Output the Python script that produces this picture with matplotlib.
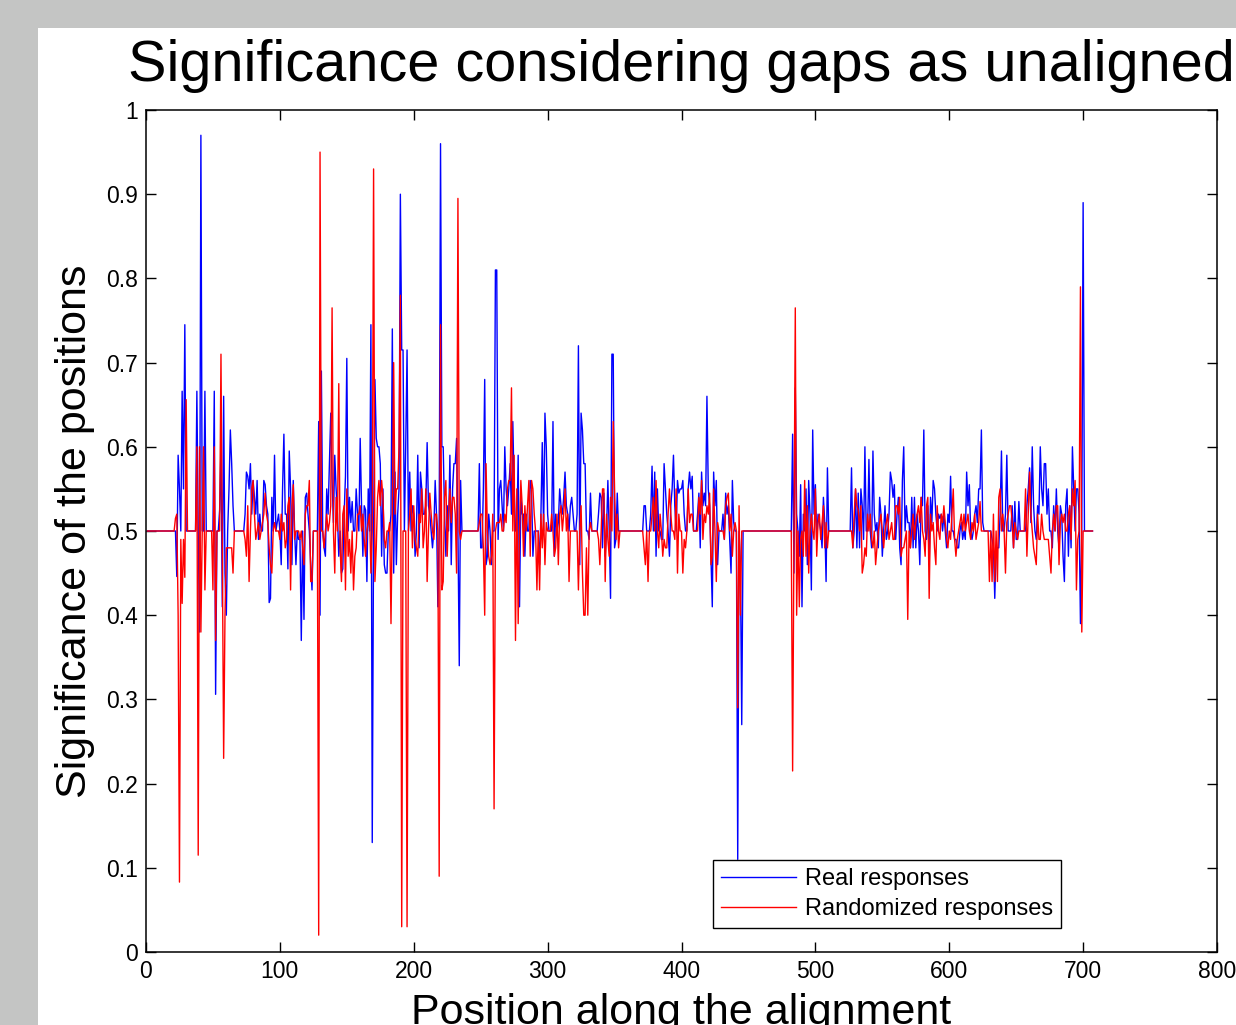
import numpy as np
import matplotlib
matplotlib.use("Agg")
import matplotlib.pyplot as plt
from matplotlib.patches import Rectangle

plt.rcParams['font.family'] = ['Liberation Sans', 'DejaVu Sans']

# ---------------- data ----------------
x_first, x_last = 1, 707
baseline = 0.5

# (start position, values) for each stretch of activity
real_p0 = [.50,.446,.59,.55,.50,.666,.55,.745,.50,.50, .50,.50,.50,.50,.50,.50,.666,.50,.38,.97,
           .50,.50,.666,.50,.50,.50,.50,.50,.50,.666, .306,.50,.50,.525,.60,.41,.66,.45,.40,.50,
           .55,.62,.58,.53,.50,.50,.50,.50,.50,.50, .50,.50,.52,.57,.565,.55,.58,.52,.56,.54,
           .52,.56,.49,.52,.50,.50,.56,.555,.53,.52, .415]
rand_p0 = [.515,.52,.40,.083,.49,.414,.49,.445,.656,.50, .50,.50,.50,.50,.50,.50,.60,.115,.60,.38,
           .50,.60,.43,.50,.50,.50,.50,.50,.43,.60, .37,.50,.50,.50,.71,.48,.23,.40,.48,.48,
           .48,.48,.48,.45,.50,.50,.50,.50,.50,.50, .50,.50,.49,.47,.53,.44,.50,.55,.56,.52,
           .49,.50,.51,.49,.50,.51,.52,.545,.52,.51, .48]

real_p1 = [.42,.54,.50,.59,.50,.51,.52,.50,.46,.55, .615,.52,.52,.455,.595,.55,.46,.56,.50,.46,
           .50,.49,.49,.37,.50,.395,.54,.545,.52,.50, .46,.43,.50,.50,.50,.50,.63,.40,.69,.50,
           .48,.47,.55,.52,.58,.64,.56,.51,.59,.55, .52,.47,.50,.45,.455,.52,.565,.705,.50,.54,
           .51,.535,.50,.50,.55,.52,.50,.61,.53,.47, .53,.525,.44,.55,.50,.745,.13,.50]
rand_p1 = [.46,.45,.50,.51,.50,.50,.50,.49,.52,.50, .51,.48,.49,.53,.54,.43,.53,.555,.49,.50,
           .50,.50,.49,.50,.48,.46,.52,.53,.53,.56, .44,.44,.50,.50,.50,.50,.02,.95,.50,.50,
           .48,.50,.52,.50,.51,.53,.765,.50,.45,.54, .50,.675,.48,.44,.52,.53,.43,.55,.47,.49,
           .45,.50,.43,.47,.48,.52,.52,.53,.50,.52, .49,.47,.50,.51,.52,.45,.50,.93]

real_p2 = [.68,.61,.60,.60,.58,.47,.55,.46,.45,.45, .50,.50,.52,.74,.45,.57,.46,.52,.55,.90,
           .715,.715,.50,.60,.715,.50,.57,.50,.53,.52, .47,.50,.59,.48,.57,.55,.52,.52,.53,.605,
           .53,.52,.50,.48,.50,.56,.52,.41,.50,.96, .60,.60,.52,.47,.53,.50,.59,.46,.55,.58,
           .58,.61,.50,.34,.56]
rand_p2 = [.44,.48,.54,.56,.53,.56,.54,.49,.48,.50, .50,.51,.39,.52,.70,.52,.55,.55,.60,.78,
           .03,.50,.50,.50,.03,.50,.52,.55,.48,.53, .49,.48,.47,.52,.51,.55,.48,.50,.55,.44,
           .50,.545,.52,.50,.49,.52,.52,.50,.09,.745, .43,.44,.54,.56,.47,.52,.55,.51,.54,.54,
           .52,.45,.895,.50,.49]

real_p3 = [.50,.58,.48,.48,.55,.68,.46,.47,.52,.50, .46,.50,.50,.81,.81,.49,.55,.56,.53,.50,
           .60,.55,.53,.55,.58,.52,.63,.55,.50,.50, .59,.41,.54,.52,.52,.47,.52,.50,.50,.56,
           .55,.47,.50,.50,.50,.50,.46,.52,.605,.50, .64,.60,.52,.50,.50,.50,.63,.47,.52,.50,
           .51,.55,.53,.52,.54,.57,.53,.52,.50,.53, .54,.52,.50,.50,.52,.72,.46,.64,.62,.58]
rand_p3 = [.50,.51,.52,.52,.48,.40,.58,.50,.47,.46, .47,.52,.17,.50,.51,.51,.51,.52,.50,.50,
           .52,.51,.55,.56,.56,.67,.50,.59,.37,.55, .39,.50,.56,.53,.47,.53,.50,.53,.56,.47,
           .56,.55,.52,.50,.43,.50,.43,.52,.48,.52, .46,.51,.50,.50,.50,.52,.50,.47,.48,.52,
           .46,.52,.53,.50,.52,.55,.50,.52,.44,.50, .50,.50,.50,.50,.50,.43,.50,.53,.45,.40]

real_p4a = [.58,.50,.50,.49,.545,.50,.50,.50,.50,.50, .52,.545,.54,.48,.545,.47,.50,.56,.50,.42,
            .71,.71,.48,.49,.545,.50]
rand_p4a = [.40,.48,.40,.50,.51,.50,.50,.50,.50,.50, .49,.46,.50,.55,.55,.44,.52,.49,.47,.54,
            .50,.63,.55,.49,.52,.48]

real_p4b = [.50,.53,.53,.50,.50,.50,.52,.577,.50,.57, .47,.55,.50,.50,.49,.49,.58,.55,.52,.50,
            .47,.53,.55,.59,.53,.50,.56,.545,.55,.55, .56,.52,.50,.50,.55,.57]
rand_p4b = [.50,.48,.46,.50,.44,.50,.50,.52,.54,.50, .56,.50,.48,.52,.50,.47,.49,.48,.48,.52,
            .55,.52,.50,.50,.49,.55,.45,.52,.50,.50, .45,.49,.48,.50,.55,.51]

real_p5 = [.55,.565,.50,.50,.50,.52,.545,.48,.57,.53, .545,.53,.66,.55,.53,.47,.41,.57,.53,.56,
           .46,.50,.50,.50,.52,.49,.545,.52,.53,.49, .45,.56,.51,.50,.50,.11,.50,.46,.27,.50]
rand_p5 = [.52,.52,.50,.50,.50,.50,.54,.52,.56,.49, .52,.51,.53,.52,.545,.46,.47,.55,.50,.44,
           .51,.50,.50,.50,.50,.49,.53,.54,.545,.50, .52,.47,.50,.51,.50,.29,.53,.40,.50,.50]

real_p6a = [.615,.45,.67,.52,.50,.47,.555,.41,.52,.50, .55,.46,.56,.52,.43,.62,.52,.555,.49,.52,
            .51,.50,.48,.54,.51,.44,.575]
rand_p6a = [.215,.50,.765,.40,.50,.41,.49,.50,.47,.56, .47,.53,.45,.50,.52,.50,.49,.55,.47,.51,
            .52,.49,.51,.53,.48,.51,.48]

real_p6b = [.575,.48,.50,.55,.48,.545,.48,.55,.53,.49, .60,.50,.50,.585,.50,.48,.595,.52,.50,.51,
            .48,.54,.52,.47,.50,.53,.49,.50,.52,.57, .56,.54]
rand_p6b = [.50,.48,.52,.55,.53,.525,.50,.53,.45,.46, .48,.47,.52,.50,.52,.49,.48,.50,.46,.48,
            .50,.51,.52,.50,.48,.50,.51,.52,.49,.50, .51,.49]

real_p7 = [.555,.49,.52,.54,.48,.46,.56,.60,.50,.53, .51,.51,.48,.54,.48,.54,.48,.52,.50,.46,
           .54,.53,.62,.50,.49,.53,.46,.54,.51,.56, .55,.52,.50,.52,.515,.52,.50,.52,.50,.48,
           .52,.51,.565,.50,.50,.49,.49,.48,.48,.50, .51,.49,.50,.49,.57,.53,.555,.50,.49,.50,
           .52,.53,.51,.55,.55,.62,.51,.50,.50,.50, .50,.50,.50,.49,.48,.42,.48,.48,.48]
rand_p7 = [.49,.53,.53,.52,.54,.47,.48,.48,.49,.50, .395,.50,.48,.50,.52,.49,.51,.52,.53,.51,
           .54,.50,.49,.47,.53,.54,.42,.52,.50,.51, .48,.46,.53,.50,.49,.52,.51,.53,.51,.49,
           .48,.50,.49,.52,.55,.49,.47,.49,.50,.51, .52,.50,.52,.50,.51,.52,.50,.49,.51,.50,
           .52,.49,.50,.51,.535,.50,.50,.50,.50,.50, .50,.44,.50,.44,.52,.44,.50,.44,.54]

real_p8 = [.52,.595,.50,.50,.52,.59,.50,.50,.50,.53, .48,.535,.49,.49,.535,.50,.50,.50,.50,.50,
           .53,.55,.575,.51,.60,.53,.50,.49,.53,.52, .60,.55,.53,.58,.58,.52,.55,.50,.50,.48,
           .53,.50,.55,.50,.48,.53,.52,.47,.44,.53, .55,.47,.53,.48,.60,.55,.50,.55,.55,.52,
           .39,.50,.89]
rand_p8 = [.55,.50,.52,.50,.45,.51,.52,.53,.53,.51, .48,.51,.50,.49,.50,.50,.50,.50,.50,.55,
           .47,.52,.57,.52,.50,.48,.47,.46,.52,.49, .49,.52,.50,.49,.49,.49,.49,.47,.45,.50,
           .52,.50,.53,.53,.46,.51,.52,.51,.52,.50, .50,.52,.53,.49,.55,.53,.56,.43,.49,.50,
           .79,.38,.50]

real_segments = [(22, real_p0), (93, real_p1), (171, real_p2), (248, real_p3), (328, real_p4a),
                 (371, real_p4b), (407, real_p5), (483, real_p6a), (527, real_p6b),
                 (559, real_p7), (638, real_p8)]
rand_segments = [(22, rand_p0), (93, rand_p1), (171, rand_p2), (248, rand_p3), (328, rand_p4a),
                 (371, rand_p4b), (407, rand_p5), (483, rand_p6a), (527, rand_p6b),
                 (559, rand_p7), (638, rand_p8)]

positions = np.arange(x_first, x_last + 1)


def build(segments):
    y = np.full(positions.size, baseline)
    for start, vals in segments:
        i0 = start - x_first
        y[i0:i0 + len(vals)] = vals
    return y


real = build(real_segments)
rand = build(rand_segments)

xticks = [0, 100, 200, 300, 400, 500, 600, 700, 800]
yticks = [0, 0.1, 0.2, 0.3, 0.4, 0.5, 0.6, 0.7, 0.8, 0.9, 1]
ytick_labels = ['0', '0.1', '0.2', '0.3', '0.4', '0.5', '0.6', '0.7', '0.8', '0.9', '1']

# ---------------- figure ----------------
W, H = 1236, 1025
fig = plt.figure(figsize=(W / 100, H / 100), dpi=100, facecolor='#c4c5c4')
bg = Rectangle((38 / W, 0), 1 - 38 / W, (H - 28) / H, transform=fig.transFigure,
               facecolor='white', edgecolor='none', zorder=-10)
fig.add_artist(bg)

ax = fig.add_axes([146 / W, (H - 952) / H, (1217 - 146) / W, (952 - 110) / H])
ax.set_zorder(1)
ax.plot(positions, real, color='#0000ff', lw=1.0, label='Real responses')
ax.plot(positions, rand, color='#ff0000', lw=1.0, label='Randomized responses')

ax.set_xlim(0, 800)
ax.set_ylim(0, 1)
ax.set_xticks(xticks)
ax.set_xticklabels([str(t) for t in xticks])
ax.set_yticks(yticks)
ax.set_yticklabels(ytick_labels)
ax.tick_params(direction='in', length=7, width=1.0, top=True, right=True,
               labelsize=16.5, pad=6, colors='black')
for s in ax.spines.values():
    s.set_linewidth(1.1)

ax.set_title('Significance considering gaps as unaligned', fontsize=41.5, pad=21)
ax.set_xlabel('Position along the alignment', fontsize=31, labelpad=7)
ax.set_ylabel('Significance of the positions', fontsize=31, labelpad=8)

leg = ax.legend(loc='lower left', bbox_to_anchor=((713 - 146) / 1071, (952 - 928) / 842),
                borderaxespad=0, frameon=True, fancybox=False, edgecolor='black',
                handlelength=3.2, handletextpad=0.35, borderpad=0.33, labelspacing=0.35,
                fontsize=17)
leg.get_frame().set_linewidth(1.0)
leg.get_frame().set_alpha(1)

fig.savefig('out.png', dpi=100, facecolor=fig.get_facecolor())
